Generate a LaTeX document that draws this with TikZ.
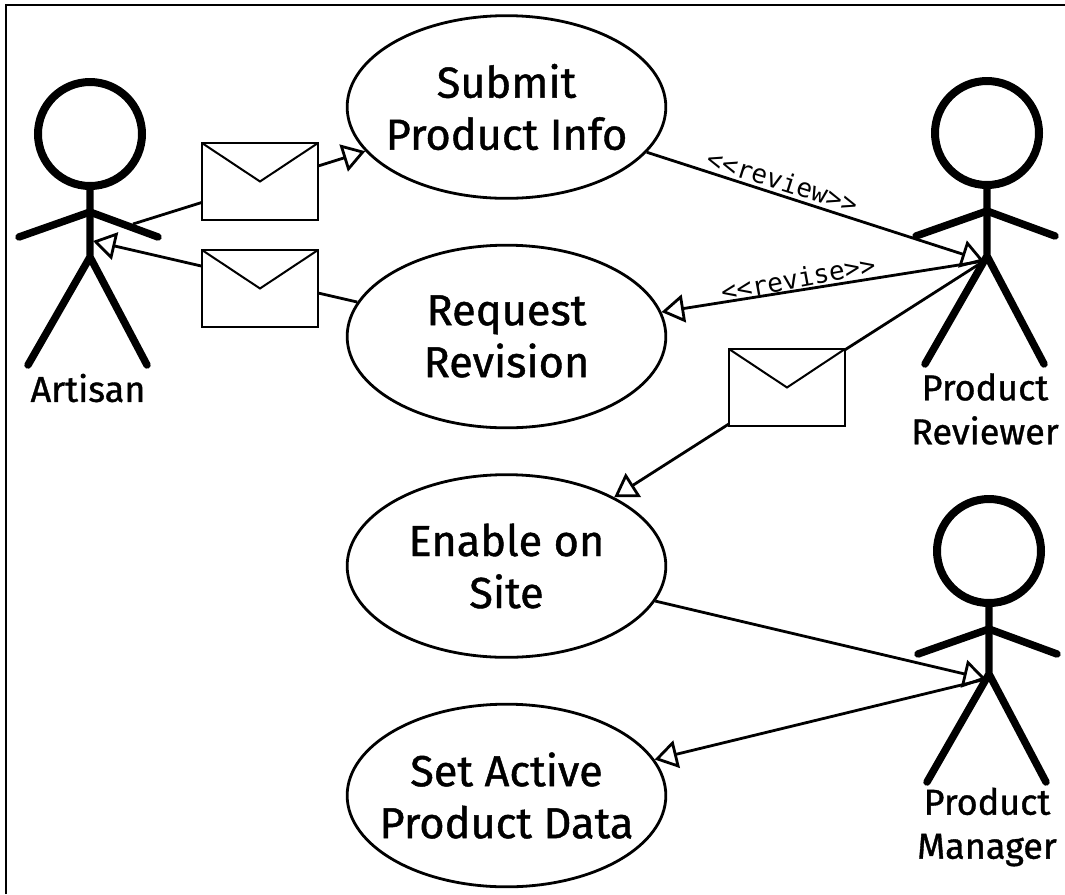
\documentclass[tikz,border=0pt]{standalone}
\usepackage{fontspec}
\setmainfont{Fira Sans}[FakeBold=1]
\setmonofont{DejaVu Sans Mono}
\usetikzlibrary{arrows.meta,shapes.geometric,positioning}

\begin{document}
\begin{tikzpicture}[
    x=0.75pt, y=-0.75pt,
    usecase/.style={ellipse, draw, line width=2.1pt, minimum width=239pt, minimum height=137pt, inner xsep=-15pt, inner ysep=0pt, align=center, font=\fontsize{32.5}{39}\selectfont},
    head/.style={circle, draw, line width=6pt, minimum size=78pt, inner sep=0pt, outer sep=0pt},
    limb/.style={line width=5.6pt, line cap=round},
    actorlabel/.style={align=center, inner sep=0pt, font=\fontsize{27}{33}\selectfont},
    stereotype/.style={inner sep=0pt, font=\ttfamily\fontsize{19.5}{22}\selectfont},
    mail/.style={rectangle, draw, fill=white, line width=1.5pt, minimum width=87pt, minimum height=57.75pt, inner sep=0pt,
        path picture={\draw[line width=1.5pt] (path picture bounding box.north west) -- (path picture bounding box.center) -- (path picture bounding box.north east);}},
    arrow/.style={line width=2.1pt, -{Triangle[fill=white, length=17pt, width=21pt]}}
]
\useasboundingbox (0,0) rectangle (1065,894);

% Frame
\draw[line width=2.1pt] (6,894) -- (6,5) -- (1065,5);

% Use cases
\node[usecase] (submit) at (506.5,107) {Submit\\Product Info};
\node[usecase] (revision) at (506.5,336.5) {Request\\Revision};
\node[usecase] (enable) at (506.5,566) {Enable on\\Site};
\node[usecase] (active) at (506.5,795.5) {Set Active\\Product Data};

% Actors
\foreach \name/\x/\y in {artisan/90/134, reviewer/987/133, manager/989/551} {
    \node[head] (\name) at (\x,\y) {};
    \draw[limb] (\name.south) -- ++(0,71) coordinate (\name-hip) -- +(-62,108) (\name-hip) -- +(57,108);
    \draw[limb] (\name.south) ++(0,26) coordinate (\name-arm) -- +(-71,25) (\name-arm) -- +(68,25);
    \coordinate (\name-end) at ([shift={(-3,5)}]\name-hip);
}
\coordinate (artisan-hand) at (133,224);
\coordinate (artisan-chest) at (93,241);

\node[actorlabel] (artisanlabel) at (88,388) {Artisan};
\node[actorlabel] (reviewerlabel) at (985,409) {Product\\Reviewer};
\node[actorlabel] (managerlabel) at (987,827) {Product\\Manager};

% Connectors
\draw[arrow] (artisan-hand) -- (submit);
\draw[arrow] (revision) -- (artisan-chest);
\draw[arrow] (submit) -- (reviewer-end);
\draw[arrow] (reviewer-end) -- (revision);
\draw[arrow] (reviewer-end) -- (enable);
\draw[arrow] (enable) -- (manager-end);
\draw[arrow] (manager-end) -- (active);

% Stereotypes
\node[stereotype, rotate=-17.5] (review) at (782.5,181) {<<review>>};
\node[stereotype, rotate=10.5] (revise) at (798,278) {<<revise>>};

% Messages
\node[mail] (mail1) at (260,181.5) {};
\node[mail] (mail2) at (260,288.5) {};
\node[mail] (mail3) at (787,387.5) {};

\end{tikzpicture}
\end{document}
